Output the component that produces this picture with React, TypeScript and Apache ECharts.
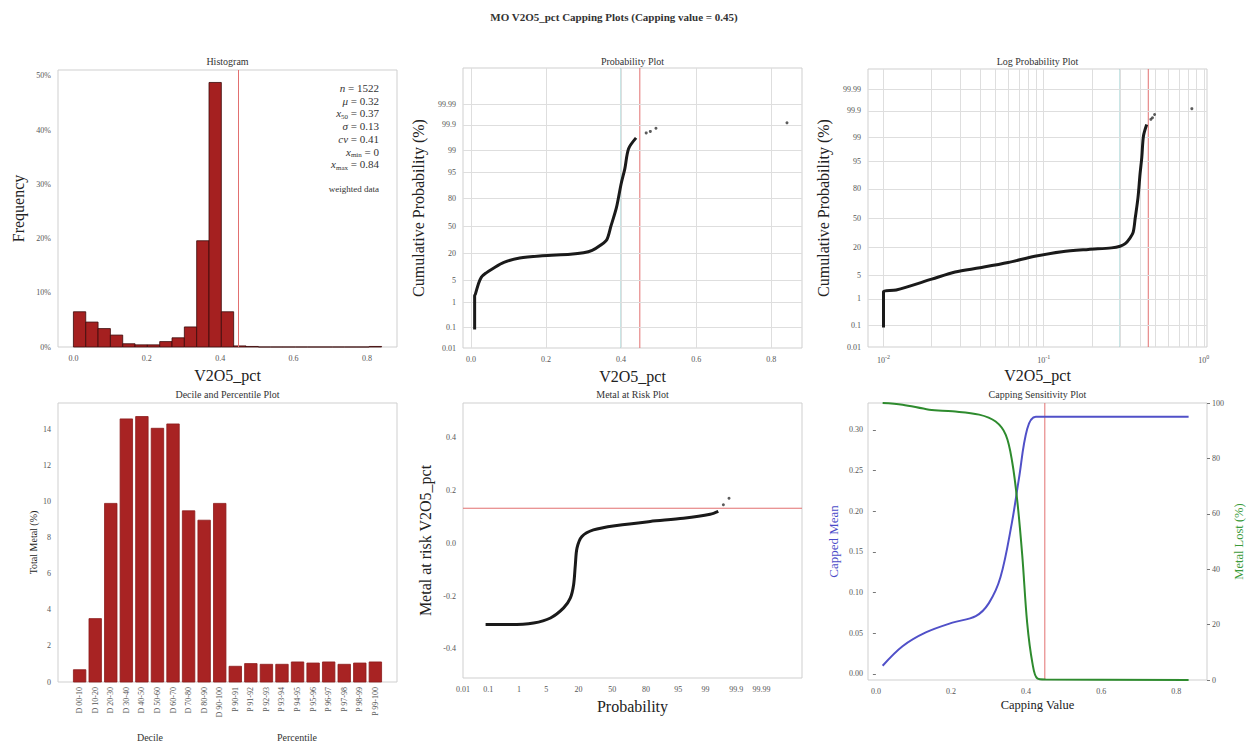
import React, { useEffect, useRef } from "react";
import * as echarts from "echarts";

const FONT = "'Liberation Serif', 'DejaVu Serif', serif";

// ---------- data ----------
const cappingValue = 0.45;

// Histogram (25 bins of equal width starting at 0)
const histBinStart = 0;
const histBinWidth = 0.0336;
const histFreq = [6.5, 4.6, 3.4, 2.2, 0.6, 0.4, 0.4, 1.0, 1.7, 3.7, 19.6, 48.8, 6.5, 0.2, 0.1, 0, 0, 0, 0, 0, 0, 0, 0, 0, 0.1];
const histYTicks = [0, 10, 20, 30, 40, 50];
const xTicks02 = [0, 0.2, 0.4, 0.6, 0.8];

// Probability plots (sorted values vs cumulative probability %)
const probValues = [0.010, 0.010, 0.012, 0.020, 0.028, 0.040, 0.060, 0.088, 0.130, 0.190, 0.265, 0.300, 0.323, 0.345, 0.362, 0.373, 0.388, 0.400, 0.410, 0.420, 0.440];
const probCum = [0.08, 1.7, 1.9, 3.9, 6.0, 7.6, 10.0, 13.5, 16.6, 18.3, 19.5, 20.8, 23.0, 28.0, 34.0, 50.0, 72.0, 90.0, 96.0, 99.1, 99.65];
const probTailValues = [0.467, 0.478, 0.493, 0.842];
const probTailCum = [99.78, 99.81, 99.86, 99.92];
const probTickLabels = [0.01, 0.1, 1, 5, 20, 50, 80, 95, 99, 99.9, 99.99];
const logTicks = [0.01, 0.1, 1];
const logMinorLines = [0.01, 0.02, 0.03, 0.04, 0.05, 0.06, 0.07, 0.08, 0.09, 0.1, 0.2, 0.3, 0.4, 0.5, 0.6, 0.7, 0.8, 0.9, 1];

// Decile / percentile plot
const decileLabels = ["D 00-10", "D 10-20", "D 20-30", "D 30-40", "D 40-50", "D 50-60", "D 60-70", "D 70-80", "D 80-90", "D 90-100",
  "P 90-91", "P 91-92", "P 92-93", "P 93-94", "P 94-95", "P 95-96", "P 96-97", "P 97-98", "P 98-99", "P 99-100"];
const decileMetal = [0.68, 3.51, 9.89, 14.57, 14.70, 14.05, 14.29, 9.48, 8.96, 9.89, 0.87, 1.02, 0.98, 0.98, 1.11, 1.05, 1.11, 0.98, 1.05, 1.11];
const decileYTicks = [0, 2, 4, 6, 8, 10, 12, 14];

// Metal at risk
const marProb = [0.08, 0.55, 2.5, 6.2, 11.3, 14.8, 16.8, 17.9, 19.0, 22.5, 32.0, 54.6, 82.8, 96.2, 99.27, 99.59];
const marValue = [-0.308, -0.308, -0.302, -0.283, -0.245, -0.208, -0.157, -0.082, -0.019, 0.025, 0.050, 0.067, 0.082, 0.094, 0.109, 0.120];
const marTailProb = [99.72, 99.82];
const marTailValue = [0.145, 0.170];
const marRiskLevel = 0.132;
const marYTicks = [-0.4, -0.2, 0, 0.2, 0.4];

// Capping sensitivity
const capX = [0.018, 0.071, 0.133, 0.204, 0.266, 0.301, 0.332, 0.362, 0.381, 0.403, 0.426, 0.470, 0.833];
const capMean = [0.010, 0.034, 0.051, 0.063, 0.071, 0.087, 0.119, 0.185, 0.240, 0.301, 0.316, 0.316, 0.316];
const lostX = [0.018, 0.071, 0.142, 0.204, 0.275, 0.319, 0.346, 0.363, 0.377, 0.390, 0.403, 0.417, 0.430, 0.452, 0.833];
const lostPct = [100, 99.4, 97.6, 97.0, 95.8, 93.3, 88.5, 78.8, 64.2, 44.8, 20.6, 6.1, 0.6, 0.2, 0];
const capMeanTicks = [0, 0.05, 0.1, 0.15, 0.2, 0.25, 0.3];

const statLines = [
  "{i|n} = 1522",
  "{i|μ} = 0.32",
  "{i|x}{s|50} = 0.37",
  "{i|σ} = 0.13",
  "{i|cv} = 0.41",
  "{i|x}{s|min} = 0",
  "{i|x}{s|max} = 0.84",
];

// ---------- helpers ----------
function probit(p: number): number {
  const a = [-3.969683028665376e1, 2.209460984245205e2, -2.759285104469687e2, 1.38357751867269e2, -3.066479806614716e1, 2.506628277459239];
  const b = [-5.447609879822406e1, 1.615858368580409e2, -1.556989798598866e2, 6.680131188771972e1, -1.328068155288572e1];
  const c = [-7.784894002430293e-3, -3.223964580411365e-1, -2.400758277161838, -2.549732539343734, 4.374664141464968, 2.938163982698783];
  const d = [7.784695709041462e-3, 3.224671290700398e-1, 2.445134137142996, 3.754408661907416];
  const plow = 0.02425;
  if (p < plow) {
    const q = Math.sqrt(-2 * Math.log(p));
    return (((((c[0] * q + c[1]) * q + c[2]) * q + c[3]) * q + c[4]) * q + c[5]) / ((((d[0] * q + d[1]) * q + d[2]) * q + d[3]) * q + 1);
  }
  if (p <= 1 - plow) {
    const q = p - 0.5, r = q * q;
    return ((((((a[0] * r + a[1]) * r + a[2]) * r + a[3]) * r + a[4]) * r + a[5]) * q) / (((((b[0] * r + b[1]) * r + b[2]) * r + b[3]) * r + b[4]) * r + 1);
  }
  const q = Math.sqrt(-2 * Math.log(1 - p));
  return -(((((c[0] * q + c[1]) * q + c[2]) * q + c[3]) * q + c[4]) * q + c[5]) / ((((d[0] * q + d[1]) * q + d[2]) * q + d[3]) * q + 1);
}
const pz = (pct: number) => probit(pct / 100);
const probTickZ = probTickLabels.map(pz);
const probLabelFmt = (v: number) => {
  let best = probTickLabels[0], bd = Infinity;
  probTickLabels.forEach((t, i) => { const dd = Math.abs(probTickZ[i] - v); if (dd < bd) { bd = dd; best = t; } });
  return String(best);
};

// axis extents
const zMin = pz(0.01);
const histYMax = 51.1;
const probYMax = 4.83;
const logProbYMax = 4.3;
const marXMax = 4.73;
const marYMin = -0.51;
const marYMax = 0.53;

const TICK_COLOR = "#555";
const GRID_COLOR = "#dedede";
const RED_LINE = "#e27070";
const TEAL_LINE = "#86c6c6";

const labelStyle = { fontFamily: FONT, fontSize: 8, color: TICK_COLOR };
const nameStyle = { fontFamily: FONT, fontSize: 16, color: "#222" };

function baseAxis(extra: any) {
  return {
    axisLine: { show: false },
    axisTick: { show: false },
    splitLine: { show: false },
    nameLocation: "middle",
    nameTextStyle: nameStyle,
    ...extra,
    axisLabel: { ...labelStyle, ...(extra.axisLabel || {}) },
  };
}

function gridLines(xi: number, yi: number, dim: "xAxis" | "yAxis", values: number[], color: string, z: number) {
  return {
    type: "line",
    xAxisIndex: xi,
    yAxisIndex: yi,
    color,
    data: [],
    z,
    silent: true,
    markLine: {
      silent: true,
      symbol: ["none", "none"],
      label: { show: false },
      lineStyle: { color, width: 1, type: "solid", opacity: 1 },
      emphasis: { disabled: true },
      data: values.map((v) => ({ [dim]: v })),
    },
  };
}

// a straight reference segment drawn as a two-point line series
function segment(xi: number, yi: number, a: number[], b: number[], color: string, z: number) {
  return {
    type: "line",
    xAxisIndex: xi,
    yAxisIndex: yi,
    data: [a, b],
    showSymbol: false,
    silent: true,
    color,
    lineStyle: { color, width: 1 },
    z,
  };
}

function rectRender(fill: string, stroke: string) {
  return (params: any, api: any) => {
    const p0 = api.coord([api.value(0), api.value(2)]);
    const p1 = api.coord([api.value(1), 0]);
    return {
      type: "rect",
      shape: { x: p0[0], y: p0[1], width: p1[0] - p0[0], height: p1[1] - p0[1] },
      style: { fill, stroke, lineWidth: 0.8 },
    };
  };
}

const grids = [
  { left: 58, top: 70, width: 339, height: 277 },
  { left: 463, top: 68, width: 339, height: 280 },
  { left: 868, top: 69, width: 339, height: 278 },
  { left: 58, top: 403, width: 339, height: 279 },
  { left: 463, top: 403, width: 339, height: 275 },
  { left: 868, top: 403, width: 339, height: 277 },
];

function title(text: string, x: number, y: number, size: number, bold = false) {
  return {
    type: "text",
    x,
    y,
    silent: true,
    style: { text, fontFamily: FONT, fontSize: size, fontWeight: bold ? "bold" : "normal", fill: "#333", align: "center", verticalAlign: "middle" },
  };
}

export default function App() {
  const ref = useRef<HTMLDivElement>(null);
  useEffect(() => {
    if (!ref.current) return;
    const chart = echarts.init(ref.current, null, { renderer: "svg" });

    const histData = histFreq.map((f, i) => [histBinStart + i * histBinWidth, histBinStart + (i + 1) * histBinWidth, f]);
    const decileData = decileMetal.map((v, i) => [i - 0.4, i + 0.4, v]);
    const probMain = probValues.map((v, i) => [v, pz(probCum[i])]);
    const probTail = probTailValues.map((v, i) => [v, pz(probTailCum[i])]);
    const marMain = marProb.map((p, i) => [pz(p), marValue[i]]);
    const marTail = marTailProb.map((p, i) => [pz(p), marTailValue[i]]);

    const graphic: any[] = [
      title("MO V2O5_pct Capping Plots (Capping value = 0.45)", 614, 17, 11, true),
      title("Histogram", 227.5, 61, 10),
      title("Probability Plot", 632.5, 61, 10),
      title("Log Probability Plot", 1037.5, 61, 10),
      title("Decile and Percentile Plot", 227.5, 394, 10),
      title("Metal at Risk Plot", 632.5, 394, 10),
      title("Capping Sensitivity Plot", 1037.5, 394, 10),
      title("Decile", 150, 737, 10),
      title("Percentile", 297, 737, 10),
    ];
    statLines.forEach((t, i) => {
      graphic.push({
        type: "text",
        x: 379,
        y: 88 + i * 12.7,
        silent: true,
        style: {
          text: t,
          fontFamily: FONT,
          fontSize: 11,
          fill: "#333",
          align: "right",
          verticalAlign: "middle",
          rich: {
            i: { fontFamily: FONT, fontSize: 11, fontStyle: "italic", fill: "#333" },
            s: { fontFamily: FONT, fontSize: 7, fill: "#333", padding: [7, 0, 0, 0] },
          },
        },
      });
    });
    graphic.push({
      type: "text", x: 379, y: 189, silent: true,
      style: { text: "weighted data", fontFamily: FONT, fontSize: 9, fill: "#333", align: "right", verticalAlign: "middle" },
    });

    const option: any = {
      animation: false,
      backgroundColor: "#fff",
      grid: grids.map((g) => ({ ...g, show: true, borderColor: "#cfcfcf", borderWidth: 1, backgroundColor: "transparent" })),
      xAxis: [
        baseAxis({ type: "value", gridIndex: 0, min: -0.042, max: 0.882, name: "V2O5_pct", nameGap: 20,
          axisLabel: { customValues: xTicks02, formatter: (v: number) => v.toFixed(1), margin: 7 } }),
        baseAxis({ type: "value", gridIndex: 1, min: -0.021, max: 0.882, name: "V2O5_pct", nameGap: 20,
          axisLabel: { customValues: xTicks02, formatter: (v: number) => v.toFixed(1), margin: 7 } }),
        baseAxis({ type: "log", logBase: 10, gridIndex: 2, min: 0.008, max: 1.047, name: "V2O5_pct", nameGap: 20,
          axisLabel: {
            customValues: logTicks,
            margin: 7,
            formatter: (v: number) => "{b|10}{e|" + Math.round(Math.log10(v)) + "}",
            rich: { b: { ...labelStyle }, e: { ...labelStyle, fontSize: 6, padding: [0, 0, 6, 0] } },
          } }),
        baseAxis({ type: "value", gridIndex: 3, min: -1.39, max: 20.39,
          axisLabel: { customValues: decileLabels.map((_, i) => i), formatter: (v: number) => decileLabels[Math.round(v)] || "", rotate: 90, margin: 5 } }),
        baseAxis({ type: "value", gridIndex: 4, min: zMin, max: marXMax, name: "Probability", nameGap: 20,
          axisLabel: { customValues: probTickZ, formatter: probLabelFmt, margin: 7 } }),
        baseAxis({ type: "value", gridIndex: 5, min: -0.021, max: 0.882, name: "Capping Value", nameGap: 18,
          nameTextStyle: { ...nameStyle, fontSize: 12.5 },
          axisLabel: { customValues: xTicks02, formatter: (v: number) => v.toFixed(1), margin: 7 } }),
      ],
      yAxis: [
        baseAxis({ type: "value", gridIndex: 0, min: 0, max: histYMax, name: "Frequency", nameGap: 32,
          axisLabel: { customValues: histYTicks, formatter: (v: number) => v + "%", margin: 7 } }),
        baseAxis({ type: "value", gridIndex: 1, min: zMin, max: probYMax, name: "Cumulative Probability (%)", nameGap: 37,
          axisLabel: { customValues: probTickZ, formatter: probLabelFmt, margin: 7 } }),
        baseAxis({ type: "value", gridIndex: 2, min: zMin, max: logProbYMax, name: "Cumulative Probability (%)", nameGap: 37,
          axisLabel: { customValues: probTickZ, formatter: probLabelFmt, margin: 7 } }),
        baseAxis({ type: "value", gridIndex: 3, min: 0, max: 15.45, name: "Total Metal (%)", nameGap: 20,
          nameTextStyle: { ...nameStyle, fontSize: 10 },
          axisLabel: { customValues: decileYTicks, margin: 7 } }),
        baseAxis({ type: "value", gridIndex: 4, min: marYMin, max: marYMax, name: "Metal at risk V2O5_pct", nameGap: 30,
          axisLabel: { customValues: marYTicks, formatter: (v: number) => v.toFixed(1), margin: 7 } }),
        baseAxis({ type: "value", gridIndex: 5, min: -0.0075, max: 0.333, position: "left", name: "Capped Mean", nameGap: 28,
          nameTextStyle: { ...nameStyle, fontSize: 13, color: "#4b4bc8" },
          axisTick: { show: true, customValues: capMeanTicks, length: 3, lineStyle: { color: "#777" } },
          axisLabel: { customValues: capMeanTicks, formatter: (v: number) => v.toFixed(2), margin: 5 } }),
        baseAxis({ type: "value", gridIndex: 5, min: 0, max: 100, interval: 20, position: "right", name: "Metal Lost (%)", nameGap: 25, nameRotate: 90,
          nameTextStyle: { ...nameStyle, fontSize: 12.5, color: "#3a9a3a" },
          axisTick: { show: true, length: 3, lineStyle: { color: "#777" } },
          axisLabel: { margin: 5 } }),
      ],
      series: [
        // Histogram
        { type: "custom", xAxisIndex: 0, yAxisIndex: 0, data: histData, encode: { x: [0, 1], y: 2 }, renderItem: rectRender("#a52020", "#3a0a0a"), z: 3 },
        segment(0, 0, [cappingValue, 0], [cappingValue, histYMax], RED_LINE, 4),
        // Probability plot
        gridLines(1, 1, "yAxis", probTickZ, GRID_COLOR, 1),
        gridLines(1, 1, "xAxis", xTicks02, GRID_COLOR, 1),
        segment(1, 1, [0.4, zMin], [0.4, probYMax], TEAL_LINE, 2),
        segment(1, 1, [cappingValue, zMin], [cappingValue, probYMax], RED_LINE, 2),
        { type: "line", xAxisIndex: 1, yAxisIndex: 1, data: probMain, showSymbol: false, smooth: 0.3, lineStyle: { color: "#1a1a1a", width: 3 }, z: 5 },
        { type: "scatter", xAxisIndex: 1, yAxisIndex: 1, data: probTail, symbolSize: 3, itemStyle: { color: "#333" }, z: 5 },
        // Log probability plot
        gridLines(2, 2, "yAxis", probTickZ, GRID_COLOR, 1),
        gridLines(2, 2, "xAxis", logMinorLines, GRID_COLOR, 1),
        segment(2, 2, [0.3, zMin], [0.3, logProbYMax], TEAL_LINE, 2),
        segment(2, 2, [cappingValue, zMin], [cappingValue, logProbYMax], RED_LINE, 2),
        { type: "line", xAxisIndex: 2, yAxisIndex: 2, data: probMain, showSymbol: false, smooth: 0.3, lineStyle: { color: "#1a1a1a", width: 3 }, z: 5 },
        { type: "scatter", xAxisIndex: 2, yAxisIndex: 2, data: probTail, symbolSize: 3, itemStyle: { color: "#333" }, z: 5 },
        // Decile plot
        { type: "custom", xAxisIndex: 3, yAxisIndex: 3, data: decileData, encode: { x: [0, 1], y: 2 }, renderItem: rectRender("#a82323", "#8c1a1a"), z: 3 },
        // Metal at risk
        segment(4, 4, [zMin, marRiskLevel], [marXMax, marRiskLevel], RED_LINE, 2),
        { type: "line", xAxisIndex: 4, yAxisIndex: 4, data: marMain, showSymbol: false, smooth: 0.3, lineStyle: { color: "#1a1a1a", width: 3 }, z: 5 },
        { type: "scatter", xAxisIndex: 4, yAxisIndex: 4, data: marTail, symbolSize: 3, itemStyle: { color: "#333" }, z: 5 },
        // Capping sensitivity
        segment(5, 6, [cappingValue, 0], [cappingValue, 100], RED_LINE, 2),
        { type: "line", xAxisIndex: 5, yAxisIndex: 5, data: capX.map((x, i) => [x, capMean[i]]), showSymbol: false, smooth: 0.35, lineStyle: { color: "#5050c8", width: 2 }, z: 5 },
        { type: "line", xAxisIndex: 5, yAxisIndex: 6, data: lostX.map((x, i) => [x, lostPct[i]]), showSymbol: false, smooth: 0.35, lineStyle: { color: "#2e8b2e", width: 2 }, z: 5 },
      ],
      graphic,
    };
    chart.setOption(option);
    return () => chart.dispose();
  }, []);
  return <div ref={ref} style={{ position: "absolute", left: 0, top: 0, width: 1246, height: 745 }} />;
}
